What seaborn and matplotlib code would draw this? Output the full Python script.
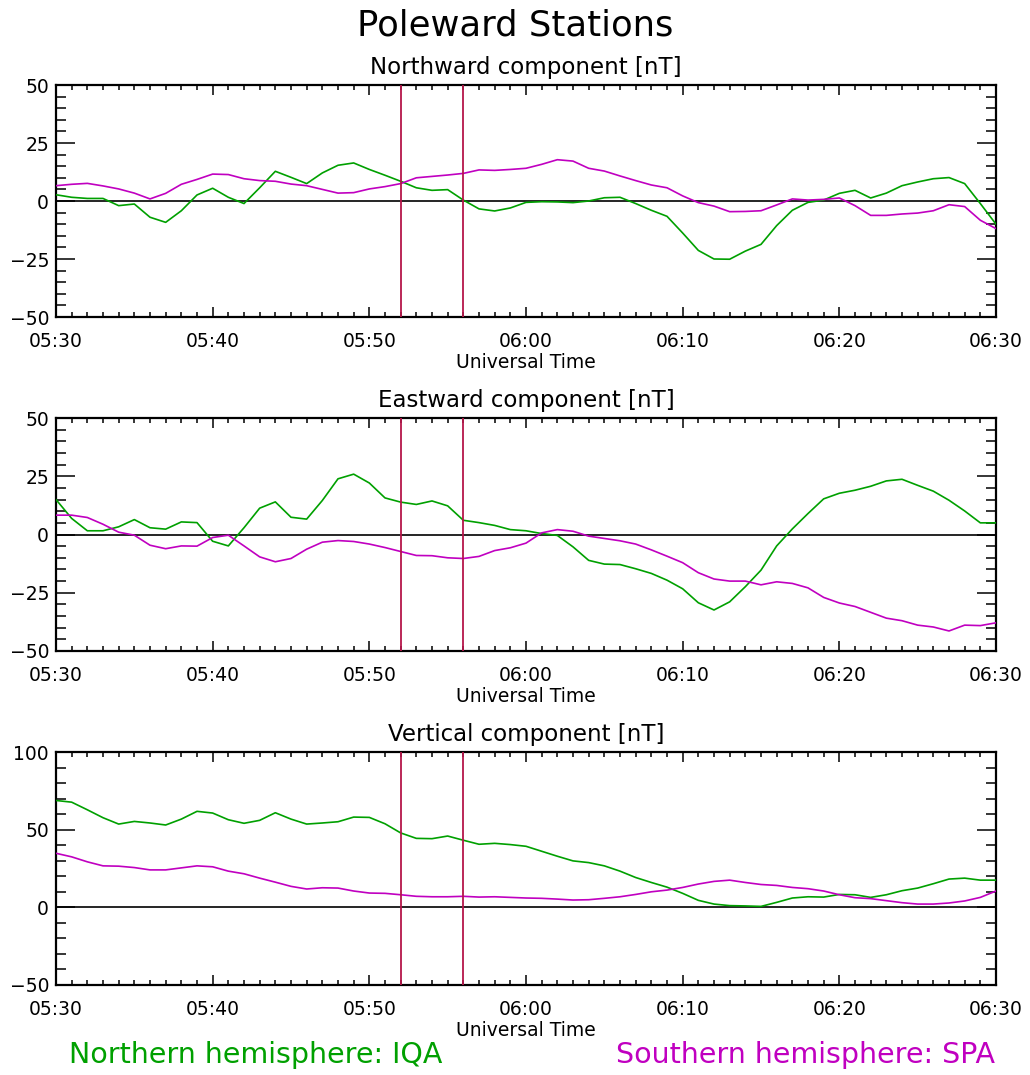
import numpy as np
import pandas as pd
import matplotlib
matplotlib.use("Agg")
import matplotlib.pyplot as plt
from matplotlib.ticker import MultipleLocator
import seaborn as sns

# Time axis: minutes after 05:30 UT, one sample per minute
minutes = list(range(61))
time_ticks = [0, 10, 20, 30, 40, 50, 60]
time_labels = ["05:30", "05:40", "05:50", "06:00", "06:10", "06:20", "06:30"]
event_minutes = [22, 26]  # 05:52 and 05:56

# Northward component [nT]
iqa_north = [2.7, 1.6, 1.1, 1.1, -2.0, -1.3, -7.0, -9.2, -4.2, 2.6,
             5.5, 1.6, -1.1, 5.7, 12.8, 10.2, 7.5, 12.1, 15.4, 16.4,
             13.6, 11.1, 8.5, 5.7, 4.6, 4.9, 0.4, -3.4, -4.3, -3.0,
             -0.6, -0.3, -0.4, -0.7, 0.0, 1.4, 1.6, -1.1, -4.0, -6.6,
             -13.8, -21.3, -25.0, -25.1, -21.6, -18.7, -10.6, -4.0, -0.6, 0.4,
             3.3, 4.6, 1.3, 3.4, 6.6, 8.2, 9.6, 10.1, 7.5, -1.1,
             -10.0]
spa_north = [6.6, 7.2, 7.6, 6.5, 5.2, 3.4, 0.9, 3.3, 7.2, 9.3,
             11.6, 11.4, 9.6, 8.8, 8.5, 7.3, 6.6, 5.0, 3.4, 3.6,
             5.2, 6.2, 7.5, 10.0, 10.6, 11.2, 11.9, 13.4, 13.2, 13.6,
             14.1, 15.8, 17.8, 17.2, 14.1, 12.9, 10.8, 8.8, 6.9, 5.7,
             2.2, -0.7, -2.2, -4.6, -4.5, -4.2, -1.7, 0.9, 0.4, 0.7,
             1.3, -2.0, -6.2, -6.2, -5.6, -5.2, -4.2, -1.6, -2.4, -8.3,
             -11.9]

# Eastward component [nT]
iqa_east = [15.0, 6.9, 1.6, 1.6, 3.3, 6.4, 2.9, 2.3, 5.4, 5.1,
            -2.9, -4.9, 2.9, 11.3, 14.0, 7.4, 6.6, 14.6, 23.9, 25.9,
            22.1, 15.7, 13.9, 12.9, 14.4, 12.3, 6.1, 5.1, 3.9, 2.1,
            1.6, 0.4, -0.4, -5.3, -11.1, -12.7, -12.9, -14.7, -16.7, -19.6,
            -23.3, -29.3, -32.4, -28.9, -22.4, -15.3, -4.9, 2.4, 9.0, 15.3,
            17.7, 19.0, 20.7, 23.0, 23.7, 21.1, 18.6, 14.7, 10.1, 5.0,
            5.0]
spa_east = [8.3, 8.3, 7.3, 4.4, 1.0, -0.3, -4.6, -6.1, -4.9, -5.0,
            -1.3, -0.3, -4.9, -9.6, -11.7, -10.3, -6.3, -3.3, -2.6, -3.0,
            -4.1, -5.6, -7.3, -9.0, -9.1, -10.0, -10.3, -9.4, -6.9, -5.7,
            -3.7, 0.7, 2.1, 1.4, -0.7, -1.7, -2.7, -4.1, -6.6, -9.3,
            -12.1, -16.4, -19.1, -20.0, -20.0, -21.6, -20.3, -21.0, -22.9, -27.0,
            -29.4, -30.9, -33.4, -35.9, -37.0, -38.9, -39.7, -41.4, -38.9, -39.1,
            -37.9]

# Vertical component [nT]
iqa_vert = [68.8, 67.7, 62.8, 57.7, 53.6, 55.3, 54.3, 53.0, 56.8, 61.8,
            60.7, 56.4, 54.1, 56.0, 60.9, 56.8, 53.6, 54.3, 55.1, 58.1,
            57.9, 53.8, 47.9, 44.4, 44.2, 45.9, 43.2, 40.6, 41.2, 40.4,
            39.3, 36.1, 32.9, 29.9, 28.8, 26.7, 23.3, 19.2, 16.0, 13.0,
            9.0, 4.5, 2.1, 1.1, 0.9, 0.6, 3.2, 6.0, 6.8, 6.6,
            8.3, 8.1, 6.4, 8.1, 10.7, 12.4, 15.2, 18.2, 18.8, 17.5,
            17.5]
spa_vert = [34.8, 32.5, 29.3, 26.7, 26.5, 25.6, 24.1, 24.1, 25.4, 26.7,
            26.1, 23.3, 21.6, 18.8, 16.2, 13.5, 11.8, 12.6, 12.4, 10.5,
            9.2, 9.0, 8.1, 7.1, 6.8, 6.8, 7.1, 6.6, 6.8, 6.4,
            6.0, 5.8, 5.3, 4.7, 4.9, 5.8, 6.8, 8.3, 10.0, 11.1,
            12.8, 15.0, 16.7, 17.5, 16.0, 14.7, 14.1, 12.8, 12.0, 10.5,
            8.1, 6.2, 5.6, 4.3, 3.0, 2.1, 2.1, 2.8, 4.1, 6.4,
            10.5]

panel_titles = ["Northward component [nT]", "Eastward component [nT]",
                "Vertical component [nT]"]
panel_series = [(iqa_north, spa_north), (iqa_east, spa_east), (iqa_vert, spa_vert)]
panel_ylims = [(-50, 50), (-50, 50), (-50, 100)]
panel_major = [25, 25, 50]
panel_minor = [5, 5, 10]

north_label = "Northern hemisphere: IQA"
south_label = "Southern hemisphere: SPA"

GREEN = "#00a000"
MAGENTA = "#c000c0"
RED = "#b5164a"

sns.set_style("ticks")
plt.rcParams["font.family"] = ["DejaVu Sans"]
plt.rcParams["text.color"] = "black"
plt.rcParams["axes.labelcolor"] = "black"
plt.rcParams["axes.titlecolor"] = "black"

W, H = 1030, 1075
fig = plt.figure(figsize=(W / 100, H / 100), dpi=100)

# Axes boxes in pixels: (top, bottom)
boxes = [(85, 317), (418, 651), (752, 985)]
left_px, right_px = 56, 996

for i, (top, bot) in enumerate(boxes):
    ax = fig.add_axes([left_px / W, 1 - bot / H, (right_px - left_px) / W, (bot - top) / H])
    iqa, spa = panel_series[i]
    df = pd.DataFrame({"minute": minutes, "IQA": iqa, "SPA": spa})
    sns.lineplot(data=df, x="minute", y="IQA", ax=ax, color=GREEN, lw=1.2, zorder=3)
    sns.lineplot(data=df, x="minute", y="SPA", ax=ax, color=MAGENTA, lw=1.2, zorder=3)
    ax.axhline(0, color="black", lw=1.2, zorder=2)
    for m in event_minutes:
        ax.axvline(m, color=RED, lw=1.3, zorder=4)

    ax.set_xlim(0, 60)
    ax.set_ylim(*panel_ylims[i])
    ax.set_xticks(time_ticks)
    ax.set_xticklabels(time_labels)
    ax.xaxis.set_minor_locator(MultipleLocator(1))
    ax.yaxis.set_major_locator(MultipleLocator(panel_major[i]))
    ax.yaxis.set_minor_locator(MultipleLocator(panel_minor[i]))
    ax.tick_params(axis="both", which="both", direction="in", top=True, right=True,
                   width=1.1, colors="black", labelsize=13.5)
    ax.tick_params(axis="x", which="major", length=7.5, pad=11)
    ax.tick_params(axis="x", which="minor", length=3.8)
    ax.tick_params(axis="y", which="major", length=13.5, pad=5)
    ax.tick_params(axis="y", which="minor", length=7)
    for s in ax.spines.values():
        s.set_linewidth(1.6)
        s.set_color("black")
    ax.set_ylabel("")
    ax.set_xlabel("Universal Time", fontsize=13.5, labelpad=1.5)
    ax.set_title(panel_titles[i], fontsize=16.5, pad=8)

fig.text(0.5, 1 - 25 / H, "Poleward Stations", ha="center", va="center", fontsize=25.5)
fig.text(69 / W, 1 - 1055 / H, north_label, ha="left", va="center", fontsize=20.5, color=GREEN)
fig.text(995 / W, 1 - 1055 / H, south_label, ha="right", va="center", fontsize=20.5, color=MAGENTA)

fig.savefig("out.png", dpi=100, facecolor="white")
